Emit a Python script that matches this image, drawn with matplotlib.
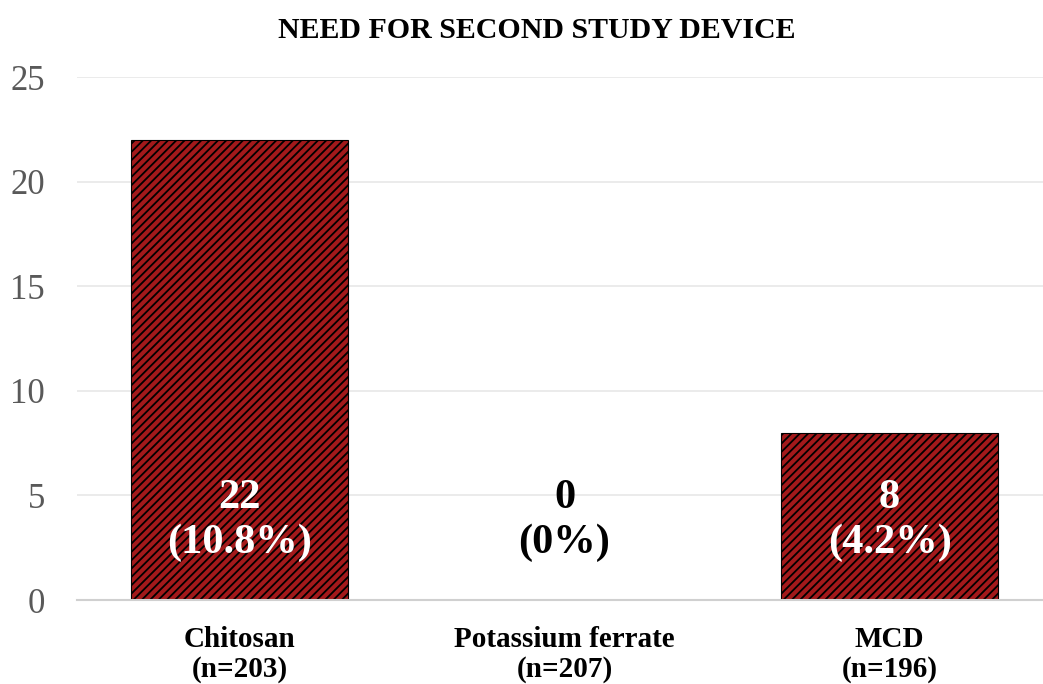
import matplotlib.pyplot as plt

# dados do grafico
categorias = ['Chitosan\n(n=203)', 'Potassium ferrate\n(n=207)', 'MCD\n(n=196)']
valores = [22, 0, 8]
rotulos = ['22\n(10.8%)', '0\n(0%)', '8\n(4.2%)']
cores_rotulo = ['white', 'black', 'white']

plt.rcParams['font.family'] = ['Liberation Serif', 'DejaVu Serif']
plt.rcParams['hatch.linewidth'] = 1.3

fig = plt.figure(figsize=(10.43, 6.84), dpi=100)
ax = fig.add_axes([0.0738, 0.1228, 0.9262, 0.7646])

x = range(len(categorias))
ax.bar(x, valores, width=0.67, color='#a3191b', edgecolor='black',
       linewidth=0.8, hatch='////', zorder=2)

for i, (r, c) in enumerate(zip(rotulos, cores_rotulo)):
    ax.text(i, 3.8, r, ha='center', va='center', color=c,
            fontsize=30.5, fontweight='bold', linespacing=1.2, zorder=3)

ax.set_ylim(0, 25)
ax.set_xlim(-0.5, 2.472)
ax.set_yticks([0, 5, 10, 15, 20, 25])
ax.set_xticks(list(x))
ax.set_xticklabels(categorias, fontsize=21, fontweight='bold', linespacing=1.1)
ax.tick_params(axis='y', labelsize=25, labelcolor='#595959', length=0, pad=23)
ax.tick_params(axis='x', length=0, pad=19)

ax.grid(axis='y', color='#e8e8e8', linewidth=1.2, zorder=0)
for s in ['top', 'right', 'left']:
    ax.spines[s].set_visible(False)
ax.spines['bottom'].set_color('#d0d0d0')
ax.spines['bottom'].set_linewidth(1.5)

fig.text(0.515, 0.956, 'NEED FOR SECOND STUDY DEVICE', ha='center', va='center',
         fontsize=21.5, fontweight='bold')

fig.savefig('out.png', dpi=100)
